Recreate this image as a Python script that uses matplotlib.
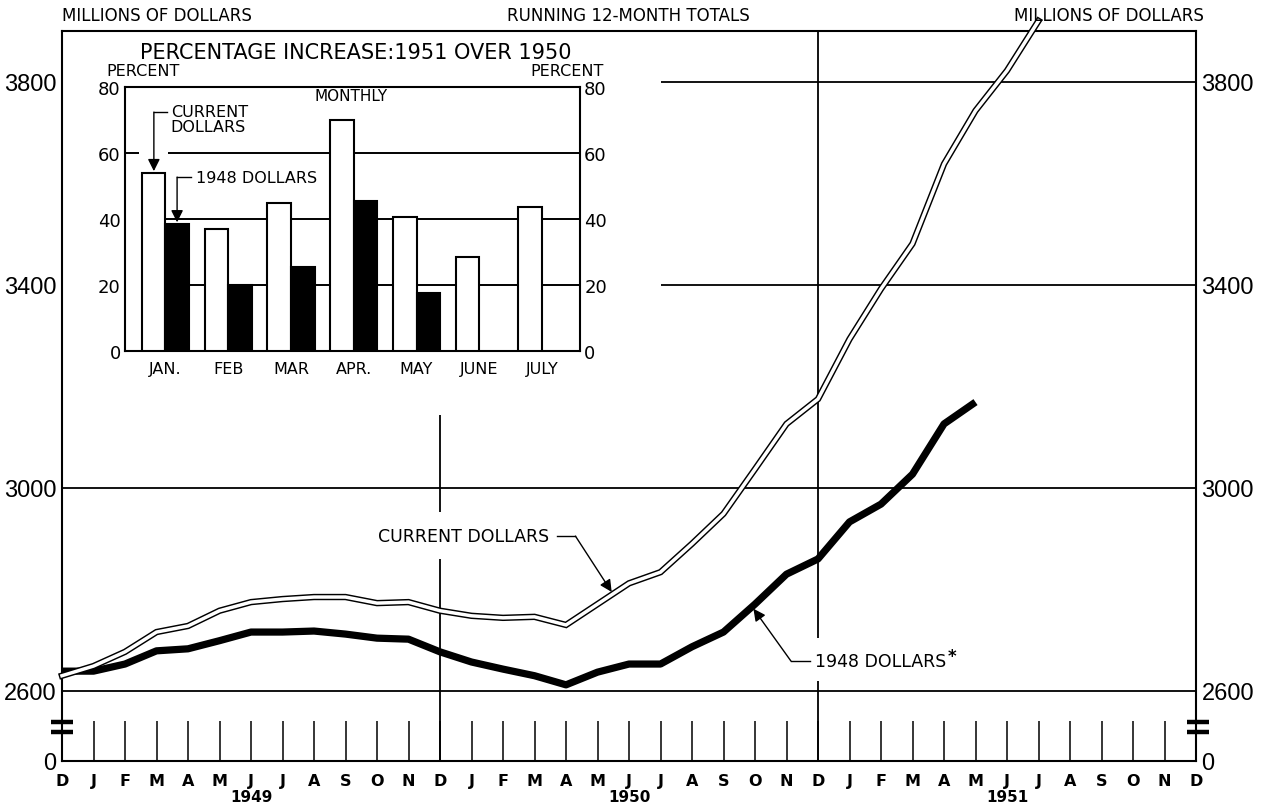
import numpy as np
import matplotlib
matplotlib.use('Agg')
import matplotlib.pyplot as plt

# ── data ───────────────────────────────────────────────────────────────────
MONTHS = ['D'] + ['J', 'F', 'M', 'A', 'M', 'J', 'J', 'A', 'S', 'O', 'N', 'D'] * 3
YEARS = ['1949', '1950', '1951']
YEAR_POS = [6, 18, 30]

# running 12-month totals, millions of dollars (index 0 = Dec 1948)
current_dollars = [2630, 2649, 2677, 2716, 2728, 2758, 2775, 2781, 2785, 2785,
                   2773, 2775, 2758, 2748, 2744, 2746, 2730, 2771, 2812, 2834,
                   2890, 2949, 3037, 3126, 3175, 3293, 3392, 3481, 3638, 3743,
                   3822, 3920]
dollars_1948 = [2639, 2639, 2653, 2679, 2683, 2699, 2716, 2716, 2718, 2712,
                2704, 2702, 2677, 2657, 2643, 2630, 2612, 2637, 2653, 2653,
                2687, 2716, 2771, 2830, 2860, 2933, 2968, 3027, 3126, 3169]

# inset: percentage increase 1951 over 1950, monthly
inset_months = ['JAN.', 'FEB', 'MAR', 'APR.', 'MAY', 'JUNE', 'JULY']
pct_current = [54, 37, 45, 70, 40.5, 28.5, 43.5]
pct_1948 = [38.5, 20, 25.5, 45.5, 17.5, np.nan, np.nan]

Y_TICKS = [2600, 3000, 3400, 3800]
Y_ZERO = 2462        # where the broken axis puts "0"
Y_TOP = 3900

NUM_FONT = ['Liberation Sans', 'DejaVu Sans']
plt.rcParams['font.family'] = ['DejaVu Sans']

fig = plt.figure(figsize=(12.76, 8.04), dpi=100)
ax = fig.add_axes([62/1276, 42/804, 1134/1276, 730/804])

# ── main lines ─────────────────────────────────────────────────────────────
x_cur = np.arange(len(current_dollars))
x_48 = np.arange(len(dollars_1948))
ax.plot(x_cur, current_dollars, color='black', lw=4.6, solid_joinstyle='miter',
        clip_on=False, zorder=5)
ax.plot(x_cur, current_dollars, color='white', lw=2.5, solid_joinstyle='miter',
        clip_on=False, zorder=6)
ax.plot(x_48, dollars_1948, color='black', lw=5.2, solid_joinstyle='round',
        solid_capstyle='butt', zorder=5)

# ── grid / frame ───────────────────────────────────────────────────────────
n = len(MONTHS) - 1
ax.set_xlim(0, n)
ax.set_ylim(Y_ZERO, Y_TOP)
for v in [2600, 3000]:
    ax.hlines(v, 0, n, color='black', lw=1.3, zorder=2)
for v in [3400, 3800]:
    ax.hlines(v, 19, n, color='black', lw=1.3, zorder=2)

# month tick marks in the broken strip
for m in range(1, n):
    ax.vlines(m, Y_ZERO, 2541, color='black', lw=1.1)
# year dividers, broken around the labels
ax.vlines(12, 2952, 3143, color='black', lw=1.3)
ax.vlines(12, Y_ZERO, 2860, color='black', lw=1.3)
ax.vlines(24, 2704, Y_TOP, color='black', lw=1.3)
ax.vlines(24, Y_ZERO, 2620, color='black', lw=1.3)

# axis break marks
for yb in [2539, 2519]:
    ax.plot([-0.35, 0.35], [yb, yb], color='black', lw=3.2, clip_on=False,
            solid_capstyle='butt', zorder=7)
    ax.plot([n - 0.3, n + 0.4], [yb, yb], color='black', lw=3.2, clip_on=False,
            solid_capstyle='butt', zorder=7)

for s in ax.spines.values():
    s.set_linewidth(1.5)

ax.set_xticks(range(len(MONTHS)))
ax.set_xticklabels(MONTHS, fontsize=11.5, fontweight='bold')
ax.set_yticks([Y_ZERO] + Y_TICKS)
ax.set_yticklabels(['0'] + [str(v) for v in Y_TICKS], fontsize=17,
                   family=NUM_FONT)
ax.tick_params(axis='x', length=0, pad=9)
ax.tick_params(axis='y', length=0, pad=4, labelright=True)

for yr, xp in zip(YEARS, YEAR_POS):
    ax.text(xp, -0.049, yr, transform=ax.get_xaxis_transform(), ha='center',
            va='center', fontsize=11, fontweight='bold')

# ── annotations ────────────────────────────────────────────────────────────
ax.text(15.45, 2905, 'CURRENT DOLLARS', ha='right', va='center', fontsize=12.5)
ax.plot([15.7, 16.3], [2905, 2905], color='black', lw=1)
ax.annotate('', xy=(17.45, 2795), xytext=(16.3, 2905),
            arrowprops=dict(arrowstyle='-|>', color='black', lw=1,
                            mutation_scale=18, shrinkA=0, shrinkB=0))

ax.text(23.9, 2659, '1948 DOLLARS', ha='left', va='center', fontsize=12.5)
ax.text(28.12, 2668, '*', ha='left', va='center', fontsize=12, fontweight='bold')
ax.plot([23.75, 23.14], [2659, 2659], color='black', lw=1)
ax.annotate('', xy=(21.95, 2762), xytext=(23.14, 2659),
            arrowprops=dict(arrowstyle='-|>', color='black', lw=1,
                            mutation_scale=18, shrinkA=0, shrinkB=0))

fig.text(62/1276, 1 - 16/804, 'MILLIONS OF DOLLARS', ha='left', va='center',
         fontsize=12)
fig.text(628/1276, 1 - 16/804, 'RUNNING 12-MONTH TOTALS', ha='center',
         va='center', fontsize=12)
fig.text(1204/1276, 1 - 16/804, 'MILLIONS OF DOLLARS', ha='right', va='center',
         fontsize=12)

# ── inset bar chart ────────────────────────────────────────────────────────
axi = fig.add_axes([125/1276, 452/804, 455/1276, 264/804])
xi = np.arange(len(inset_months))
bw = 0.375
axi.set_xlim(-0.27, 6.98)
axi.set_ylim(0, 80)
axi.hlines(60, -0.27, -0.05, color='black', lw=1.4, zorder=1)
axi.hlines(60, 0.42, 6.98, color='black', lw=1.4, zorder=1)
axi.hlines([20, 40], 0.375, 6.98, color='black', lw=1.4, zorder=1)
axi.bar(xi, pct_current, width=bw, align='edge', color='white',
        edgecolor='black', lw=1.5, zorder=3)
axi.bar(xi + bw, pct_1948, width=bw, align='edge', color='black',
        edgecolor='black', lw=1.5, zorder=3)
for s in axi.spines.values():
    s.set_linewidth(1.5)

axi.set_xticks(xi + bw)
axi.set_xticklabels(inset_months, fontsize=11.5)
axi.set_yticks([0, 20, 40, 60, 80])
axi.set_yticklabels(['0', '20', '40', '60', '80'], fontsize=13)
axi.tick_params(axis='x', length=0, pad=7)
axi.tick_params(axis='y', length=0, pad=3, labelright=True)

axi.text(3.33, 77.3, 'MONTHLY', ha='center', va='center', fontsize=11)
axi.text(0.46, 70.3, 'CURRENT\nDOLLARS', ha='left', va='center', fontsize=11.5,
         linespacing=1.0)
axi.plot([0.40, 0.19], [72.4, 72.4], color='black', lw=1)
axi.annotate('', xy=(0.19, 54.5), xytext=(0.19, 72.4),
             arrowprops=dict(arrowstyle='-|>', color='black', lw=1,
                             mutation_scale=18, shrinkA=0, shrinkB=0))
axi.text(0.86, 52.7, '1948 DOLLARS', ha='left', va='center', fontsize=11.5)
axi.plot([0.78, 0.56], [52.7, 52.7], color='black', lw=1)
axi.annotate('', xy=(0.56, 39), xytext=(0.56, 52.7),
             arrowprops=dict(arrowstyle='-|>', color='black', lw=1,
                             mutation_scale=18, shrinkA=0, shrinkB=0))

fig.text(356/1276, 1 - 53/804, 'PERCENTAGE INCREASE:1951 OVER 1950',
         ha='center', va='center', fontsize=15)
fig.text(106/1276, 1 - 72/804, 'PERCENT', ha='left', va='center', fontsize=11.5)
fig.text(604/1276, 1 - 72/804, 'PERCENT', ha='right', va='center',
         fontsize=11.5)

fig.savefig('out.png', dpi=100)
